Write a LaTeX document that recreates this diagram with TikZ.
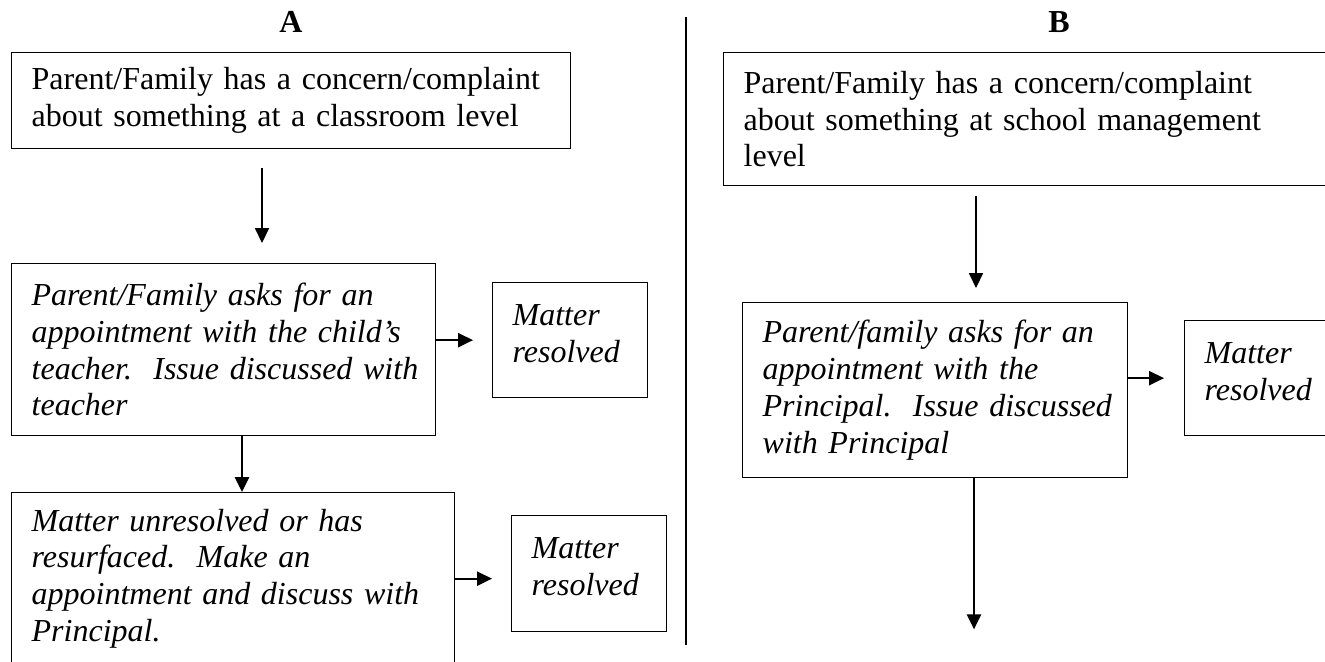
\documentclass[tikz,border=0pt]{standalone}
\usepackage{fontspec}
\setmainfont{Liberation Serif}
\usetikzlibrary{arrows.meta}

\newlength{\du}
\setlength{\du}{0.375pt}
\hyphenpenalty=10000
\exhyphenpenalty=10000

\tikzset{
  txt/.style={font=\fontsize{12pt}{13.8pt}\selectfont},
  itxt/.style={font=\fontsize{12pt}{13.8pt}\selectfont\itshape},
  box/.style={draw, line width=0.5pt, rectangle, anchor=north west, inner sep=0pt, align=left},
  boxsize/.code 2 args={\pgfmathsetlengthmacro\boxtw{(#1-40)*\du}%
    \tikzset{minimum width=#1\du, minimum height=#2\du, text width=\boxtw}},
  small/.style={text depth=19pt},
  arr/.style={-{Triangle[length=5.6pt,width=5.3pt]}, line width=0.45pt},
  sidearr/.style={arr, line width=0.75pt}
}

\begin{document}
\begin{tikzpicture}[x=1\du, y=-1\du]
\useasboundingbox (0,0) rectangle (1325,661);
\clip (0,0) rectangle (1325,661);

% column A
\node[txt, font=\fontsize{12pt}{13.8pt}\selectfont\bfseries] (labA) at (291,22) {A};
\node[box, txt, boxsize={559}{96}] (A1) at (11,52)
  {Parent/Family has a concern/complaint\\about something at a classroom level};
\node[box, itxt, boxsize={424}{172}] (A2) at (11,263)
  {Parent/Family asks for an\\appointment with the child’s\\teacher.~~Issue~discussed~with\\teacher};
\node[box, itxt, small, boxsize={155}{115}] (A3) at (492,282) {Matter\\resolved};
\node[box, itxt, boxsize={443}{172}] (A4) at (11,492)
  {Matter unresolved or has\\resurfaced.~~Make an\\appointment and discuss with\\Principal.};
\node[box, itxt, small, boxsize={155}{116}] (A5) at (511,515) {Matter\\resolved};

\draw[arr, shorten <=19\du, shorten >=20\du] ([xshift=251\du]A1.south west) -- ([xshift=251\du]A1.south west |- A2.north);
\draw[sidearr, shorten >=19\du] (A2.east |- A3.west) -- (A3.west);
\draw[sidearr] ([xshift=231\du]A2.south west) -- ([xshift=231\du]A2.south west |- A4.north);
\draw[sidearr, shorten >=19\du] (A4.east) -- (A4.east -| A5.west);

% divider
\coordinate (divtop) at (686,17);
\coordinate (divbot) at (686,645);
\draw[line width=0.45pt] (divtop) -- (divbot);

% column B
\node[txt, font=\fontsize{12pt}{13.8pt}\selectfont\bfseries] (labB) at (1059,22) {B};
\node[box, txt, boxsize={640}{133}] (B1) at (723,52)
  {Parent/Family has a concern/complaint\\about something at school management\\level};
\node[box, itxt, boxsize={385}{175}] (B2) at (742,302)
  {Parent/family asks for an\\appointment with the\\Principal.~~Issue~discussed\\with Principal};
\node[box, itxt, small, boxsize={155}{115}] (B3) at (1184,320) {Matter\\resolved};
\coordinate (Bnext) at ([xshift=232\du,yshift=-151\du]B2.south west);

\draw[arr, shorten <=10\du, shorten >=14\du] ([xshift=253\du]B1.south west) -- ([xshift=253\du]B1.south west |- B2.north);
\draw[sidearr, shorten >=20\du] (B2.east |- B3.west) -- (B3.west);
\draw[sidearr] (Bnext |- B2.south) -- (Bnext);
\end{tikzpicture}
\end{document}
